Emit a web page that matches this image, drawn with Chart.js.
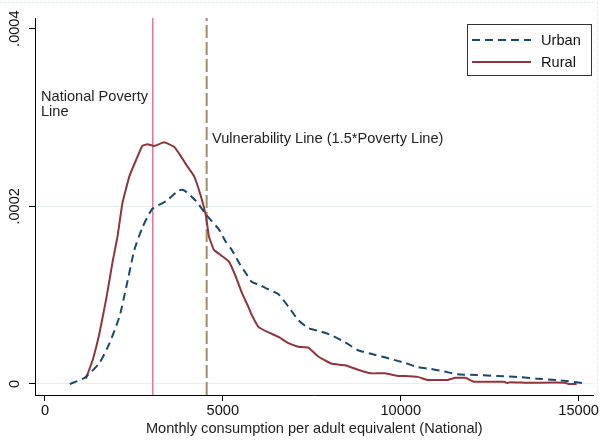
<!DOCTYPE html>
<html>
<head>
<meta charset="utf-8">
<script src="https://cdn.jsdelivr.net/npm/chart.js@4/dist/chart.umd.min.js"></script>
<style>
  body { margin: 0; background: #fff; }
  #wrap { width: 600px; height: 441px; }
</style>
</head>
<body>
<div id="wrap"><canvas id="density" width="600" height="441"></canvas></div>
<script>
// kernel density, y values in units of 1e-4
var urbanX = [700, 1117, 1536, 1815, 2095, 2290, 2514, 2737, 3017, 3408, 3770, 3910, 4245, 4525, 4692, 4888, 5083, 5251, 5446, 5642, 5809, 6005, 6200, 6564, 6843, 7122, 7401, 7764, 8044, 8435, 8798, 9161, 9552, 9915, 10111, 10474, 10837, 11228, 11591, 12150, 12708, 13267, 13826, 14384, 14719, 14943, 15139];
var urbanY = [0.00, 0.07, 0.24, 0.46, 0.76, 1.10, 1.51, 1.76, 1.97, 2.06, 2.18, 2.18, 2.06, 1.91, 1.83, 1.74, 1.60, 1.51, 1.37, 1.25, 1.15, 1.12, 1.08, 1.01, 0.87, 0.72, 0.63, 0.59, 0.55, 0.47, 0.38, 0.34, 0.30, 0.26, 0.24, 0.19, 0.17, 0.14, 0.11, 0.10, 0.09, 0.08, 0.06, 0.045, 0.03, 0.02, 0.01];

var ruralX = [1150, 1341, 1536, 1732, 1899, 2039, 2179, 2374, 2570, 2737, 2877, 3073, 3352, 3631, 3827, 3966, 4190, 4385, 4525, 4609, 4748, 4944, 5167, 5362, 5530, 5726, 5809, 6005, 6285, 6564, 6843, 7122, 7401, 7681, 8044, 8435, 8798, 9161, 9552, 9915, 10111, 10474, 10753, 11312, 11535, 11815, 12066, 12904, 12988, 13072, 13547, 14608, 14719, 14943];
var ruralY = [0.06, 0.27, 0.58, 0.98, 1.37, 1.66, 2.04, 2.34, 2.53, 2.68, 2.70, 2.68, 2.72, 2.67, 2.56, 2.47, 2.34, 2.11, 1.89, 1.66, 1.51, 1.45, 1.38, 1.21, 1.03, 0.86, 0.78, 0.64, 0.58, 0.53, 0.46, 0.42, 0.41, 0.31, 0.23, 0.21, 0.16, 0.12, 0.12, 0.09, 0.09, 0.08, 0.045, 0.045, 0.07, 0.07, 0.025, 0.025, 0.01, 0.02, 0.015, 0.015, 0.0, 0.0];

var povertyLine = 3030;
var vulnerabilityLine = 4545;

var xTicks = [0, 5000, 10000, 15000];
var yTicks = [0, 0.0002, 0.0004];
var yTickLabels = ['0', '.0002', '.0004'];

var xMin = -280, xMax = 15420;
var yMin = -0.0000124, yMax = 0.000412;

var fontFamily = "'Liberation Sans', Arial, sans-serif";
Chart.defaults.font.family = fontFamily;
Chart.defaults.font.size = 14.6;
Chart.defaults.color = '#111';

function toPoints(xs, ys) {
    return xs.map((x, i) => ({ x: x, y: ys[i] * 1e-4 }));
}

function vline(x) {
    return [{ x: x, y: yMin }, { x: x, y: yMax }];
}

// legend box, line labels and the faint outer frame
var overlay = {
    id: 'overlay',
    afterDraw: function (chart) {
        var c = chart.ctx;
        c.save();

        c.strokeStyle = '#d6ecee';
        c.lineWidth = 1;
        c.setLineDash([2, 2]);
        c.beginPath();
        c.moveTo(0, 2.5); c.lineTo(600, 2.5);
        c.moveTo(597.5, 2); c.lineTo(597.5, 395);
        c.stroke();
        c.setLineDash([]);

        c.fillStyle = '#222';
        c.font = '14.6px ' + fontFamily;
        c.textBaseline = 'alphabetic';
        c.textAlign = 'left';
        c.fillText('National Poverty', 41, 101);
        c.fillText('Line', 41, 116);
        c.fillText('Vulnerability Line (1.5*Poverty Line)', 212, 143);

        c.fillStyle = '#fff';
        c.fillRect(467.5, 24.5, 124, 51);
        c.strokeStyle = '#333';
        c.lineWidth = 1;
        c.strokeRect(467.5, 24.5, 124, 51);

        var items = [chart.data.datasets[0], chart.data.datasets[1]];
        items.forEach(function (ds, i) {
            var y = 40 + i * 22;
            c.strokeStyle = ds.borderColor;
            c.lineWidth = 2;
            c.setLineDash(ds.borderDash || []);
            c.beginPath();
            c.moveTo(472, y); c.lineTo(531, y);
            c.stroke();
            c.setLineDash([]);
            c.fillStyle = '#111';
            c.textBaseline = 'middle';
            c.fillText(ds.label, 541, y + 1);
        });
        c.restore();
    }
};

var ctx = document.getElementById('density').getContext('2d');
var chart = new Chart(ctx, {
    type: 'line',
    data: {
        datasets: [{
            label: 'Urban',
            data: toPoints(urbanX, urbanY),
            borderColor: '#1a476f',
            borderWidth: 2,
            borderDash: [8, 5],
            pointRadius: 0,
            fill: false,
            tension: 0.2
        }, {
            label: 'Rural',
            data: toPoints(ruralX, ruralY),
            borderColor: '#90353b',
            borderWidth: 2,
            pointRadius: 0,
            fill: false,
            tension: 0.1
        }, {
            label: 'National Poverty Line',
            data: vline(povertyLine),
            borderColor: '#e07894',
            borderWidth: 1.5,
            pointRadius: 0,
            fill: false
        }, {
            label: 'Vulnerability Line',
            data: vline(vulnerabilityLine),
            borderColor: '#a08d63',
            borderWidth: 2,
            borderDash: [13, 4],
            pointRadius: 0,
            fill: false
        }]
    },
    options: {
        responsive: false,
        animation: false,
        layout: { padding: { top: 18, right: 3, left: 0, bottom: 0 } },
        plugins: {
            legend: { display: false },
            tooltip: { enabled: false }
        },
        scales: {
            x: {
                type: 'linear',
                min: xMin,
                max: xMax,
                afterBuildTicks: function (scale) {
                    scale.ticks = xTicks.map(v => ({ value: v }));
                },
                afterFit: function (scale) { scale.height = 46; },
                ticks: {
                    padding: 1,
                    maxRotation: 0,
                    color: '#111',
                    callback: function (v) { return String(v); }
                },
                grid: {
                    drawOnChartArea: false,
                    tickLength: 6,
                    tickColor: '#000'
                },
                border: { color: '#000', width: 1 },
                title: {
                    display: true,
                    text: 'Monthly consumption per adult equivalent (National)',
                    color: '#222',
                    padding: { top: 0, bottom: 3 }
                }
            },
            y: {
                min: yMin,
                max: yMax,
                afterBuildTicks: function (scale) {
                    scale.ticks = yTicks.map(v => ({ value: v }));
                },
                afterFit: function (scale) { scale.width = 35; },
                ticks: {
                    minRotation: 90,
                    maxRotation: 90,
                    crossAlign: 'center',
                    padding: -4.5,
                    color: '#111',
                    callback: function (v) {
                        var i = yTicks.indexOf(v);
                        return i >= 0 ? yTickLabels[i] : '';
                    }
                },
                grid: {
                    tickLength: 6,
                    tickColor: '#000',
                    color: function (c) {
                        return c.tick && c.tick.value === 0.0004 ? 'rgba(0,0,0,0)' : '#e3f0f0';
                    }
                },
                border: { color: '#000', width: 1 }
            }
        }
    },
    plugins: [overlay]
});
</script>
</body>
</html>
